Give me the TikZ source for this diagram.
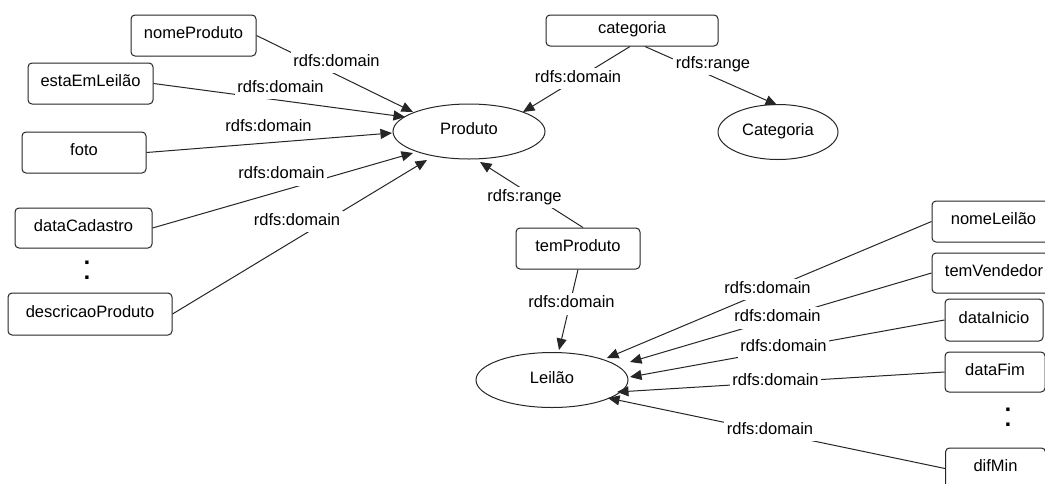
\documentclass[tikz,border=0pt]{standalone}
\usepackage{fontspec}
\setmainfont{Liberation Sans}
\usetikzlibrary{arrows.meta,calc,shapes.geometric}
\begin{document}
\begin{tikzpicture}[x=1pt,y=-1pt,
  font=\fontsize{16.5}{19}\selectfont,
  box/.style={draw=black!85, line width=1pt, rounded corners=4pt, minimum height=41pt, inner sep=0pt, fill=white, text height=12pt, text depth=6pt},
  ell/.style={ellipse, draw=black!85, line width=1pt, minimum width=152pt, minimum height=55pt, inner sep=0pt, text height=12pt, text depth=6pt},
  con/.style={draw=black!85, line width=1pt, -{Triangle[length=11.5pt,width=10pt]}},
  lbl/.style={fill=white, inner sep=2.5pt, text height=12pt, text depth=4.5pt, anchor=base},
  dotsym/.style={font=\fontsize{35}{35}\selectfont, inner sep=0pt}
]
\useasboundingbox (0,0) rectangle (1045,483);
\fill[white] (0,0) rectangle (1045,483);
\clip (0,0) rectangle (1045,483);

% class ellipses
\node[ell] (Prod) at (469,131.5) {Produto};
\node[ell, minimum width=120pt] (Cat) at (778,132) {Categoria};
\node[ell] (Lei) at (552,380) {Leilão};

% property boxes
\node[box, minimum width=125pt] (nP) at (193.5,35.5) {nomeProduto};
\node[box, minimum width=125pt] (eL) at (90.5,83.5) {estaEmLeilão};
\node[box, minimum width=124pt] (foto) at (84,152.5) {foto};
\node[box, minimum width=137pt, minimum height=40pt] (dC) at (83.5,228) {dataCadastro};
\node[box, minimum width=164pt, minimum height=42pt] (dP) at (90,314) {descricaoProduto};
\node[box, minimum width=172pt, minimum height=31pt] (cat) at (632,30.5) {categoria};
\node[box, minimum width=124pt] (tP) at (578,248.5) {temProduto};
\node[box, minimum width=123pt] (nL) at (993.5,221.5) {nomeLeilão};
\node[box, minimum width=124pt, minimum height=40pt] (tV) at (994,273) {temVendedor};
\node[box, minimum width=98pt, minimum height=42pt] (dI) at (994,320) {dataInicio};
\node[box, minimum width=100pt, minimum height=40pt] (dF) at (995,372) {dataFim};
\node[box, minimum width=100pt] (dM) at (995.5,468.5) {difMin};

% ellipsis marks
\node[dotsym] (c1) at (87,270) {:};
\node[dotsym] (c2) at (1008,417.5) {:};

% connectors
\draw[con] (nP.east) -- ($(Prod.center)+(-56,-19.5)$);
\draw[con] (eL.east) -- ($(Prod.center)+(-64,-14.5)$);
\draw[con] (foto.east) -- ($(Prod.center)+(-77,1.5)$);
\draw[con] (dC.east) -- ($(Prod.center)+(-56,21.5)$);
\draw[con] (dP.east) -- ($(Prod.center)+(-42,28.5)$);
\draw[con] ($(cat.south)+(-2,0)$) -- ($(Prod.center)+(54,-19.5)$);
\draw[con] ($(cat.south)+(13,0)$) -- ($(Cat.center)+(-1,-27)$);
\draw[con] ($(tP.north)+(5,0)$) -- ($(Prod.center)+(11,30.5)$);
\draw[con] (tP.south) -- ($(Lei.center)+(7,-30)$);
\draw[con] (nL.west) -- ($(Lei.center)+(55,-22)$);
\draw[con] (tV.west) -- ($(Lei.center)+(78,-18)$);
\draw[con] (dI.west) -- ($(Lei.center)+(78,-3)$);
\draw[con] (dF.west) -- ($(Lei.center)+(65,12)$);
\draw[con] (dM.west) -- ($(Lei.center)+(56,18)$);

% connector labels
\node[lbl] (l1) at (336.5,66) {rdfs:domain};
\node[lbl] (l2) at (280.5,92) {rdfs:domain};
\node[lbl] (l3) at (268.5,131) {rdfs:domain};
\node[lbl] (l4) at (281.5,178.5) {rdfs:domain};
\node[lbl] (l5) at (297,225) {rdfs:domain};
\node[lbl] (l6) at (578,82) {rdfs:domain};
\node[lbl] (l7) at (713,68) {rdfs:range};
\node[lbl] (l8) at (524.5,201) {rdfs:range};
\node[lbl] (l9) at (571.5,307.5) {rdfs:domain};
\node[lbl] (l10) at (767.5,293) {rdfs:domain};
\node[lbl] (l11) at (777.5,321.5) {rdfs:domain};
\node[lbl] (l12) at (783.5,351.5) {rdfs:domain};
\node[lbl] (l13) at (775.5,385) {rdfs:domain};
\node[lbl] (l14) at (770,434) {rdfs:domain};
\end{tikzpicture}
\end{document}
